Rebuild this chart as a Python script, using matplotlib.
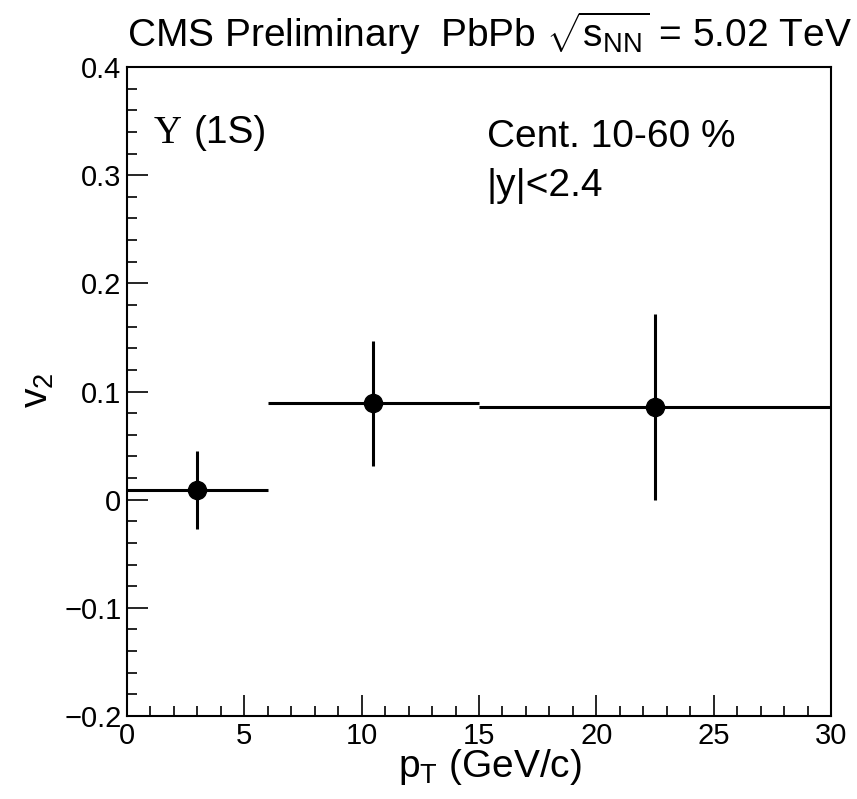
import matplotlib
matplotlib.use("Agg")
import matplotlib.pyplot as plt
from matplotlib.ticker import MultipleLocator

# data
bin_lo = [0, 6, 15]
bin_hi = [6, 15, 30]
pt = [3.0, 10.5, 22.5]
v2 = [0.009, 0.089, 0.086]
v2_err = [0.036, 0.058, 0.086]

xticks = [0, 5, 10, 15, 20, 25, 30]
yticks = [-0.2, -0.1, 0.0, 0.1, 0.2, 0.3, 0.4]
yticklabels = ["\u22120.2", "\u22120.1", "0", "0.1", "0.2", "0.3", "0.4"]

plt.rcParams['font.family'] = ['Liberation Sans', 'DejaVu Sans']
plt.rcParams['mathtext.fontset'] = 'custom'
plt.rcParams['mathtext.rm'] = 'Liberation Sans'
plt.rcParams['mathtext.it'] = 'Liberation Sans:italic'
plt.rcParams['mathtext.bf'] = 'Liberation Sans:bold'

W, H = 857, 799
fig = plt.figure(figsize=(W / 100, H / 100), dpi=100)
ax = fig.add_axes([127 / W, 1 - 716 / H, (831 - 127) / W, (716 - 67) / H])

xerr_lo = [p - l for p, l in zip(pt, bin_lo)]
xerr_hi = [h - p for p, h in zip(pt, bin_hi)]
ax.errorbar(pt, v2, yerr=v2_err, xerr=[xerr_lo, xerr_hi], fmt='o', color='black',
            ms=13, elinewidth=2.2, capsize=0, zorder=3)

ax.set_xlim(0, 30)
ax.set_ylim(-0.2, 0.4)
ax.set_xticks(xticks)
ax.set_xticklabels([str(t) for t in xticks])
ax.set_yticks(yticks)
ax.set_yticklabels(yticklabels)
ax.xaxis.set_minor_locator(MultipleLocator(1))
ax.yaxis.set_minor_locator(MultipleLocator(0.02))
ax.tick_params(which='both', direction='in', top=False, right=False, labelsize=21, width=1.2)
ax.tick_params(which='major', length=15)
ax.tick_params(which='minor', length=7.5)
ax.tick_params(axis='x', pad=4)
ax.tick_params(axis='y', pad=4)
for s in ax.spines.values():
    s.set_linewidth(1.5)

def fx(px):
    return px / W

def fy(py):
    return 1 - py / H

fig.text(fx(127), fy(47), r"CMS Preliminary  PbPb $\sqrt{\mathrm{s}_{\mathrm{NN}}}$ = 5.02 TeV",
         fontsize=28, ha='left', va='baseline')

fig.text(fx(154), fy(143), "\u03a5", family=['Liberation Serif', 'DejaVu Serif'],
         fontsize=28, ha='left', va='baseline')
fig.text(fx(194), fy(143), "(1S)", fontsize=28, ha='left', va='baseline')

fig.text(fx(487), fy(147), "Cent. 10-60 %", fontsize=28, ha='left', va='baseline')
fig.text(fx(487), fy(196), "|y|<2.4", fontsize=28, ha='left', va='baseline')

fig.text(fx(490), fy(777), r"p$_{\mathrm{T}}$ (GeV/c)", fontsize=28, ha='center', va='baseline')
fig.text(fx(38), fy(390), r"v$_{2}$", fontsize=28, ha='center', va='center', rotation=90)

fig.savefig("out.png", dpi=100)
